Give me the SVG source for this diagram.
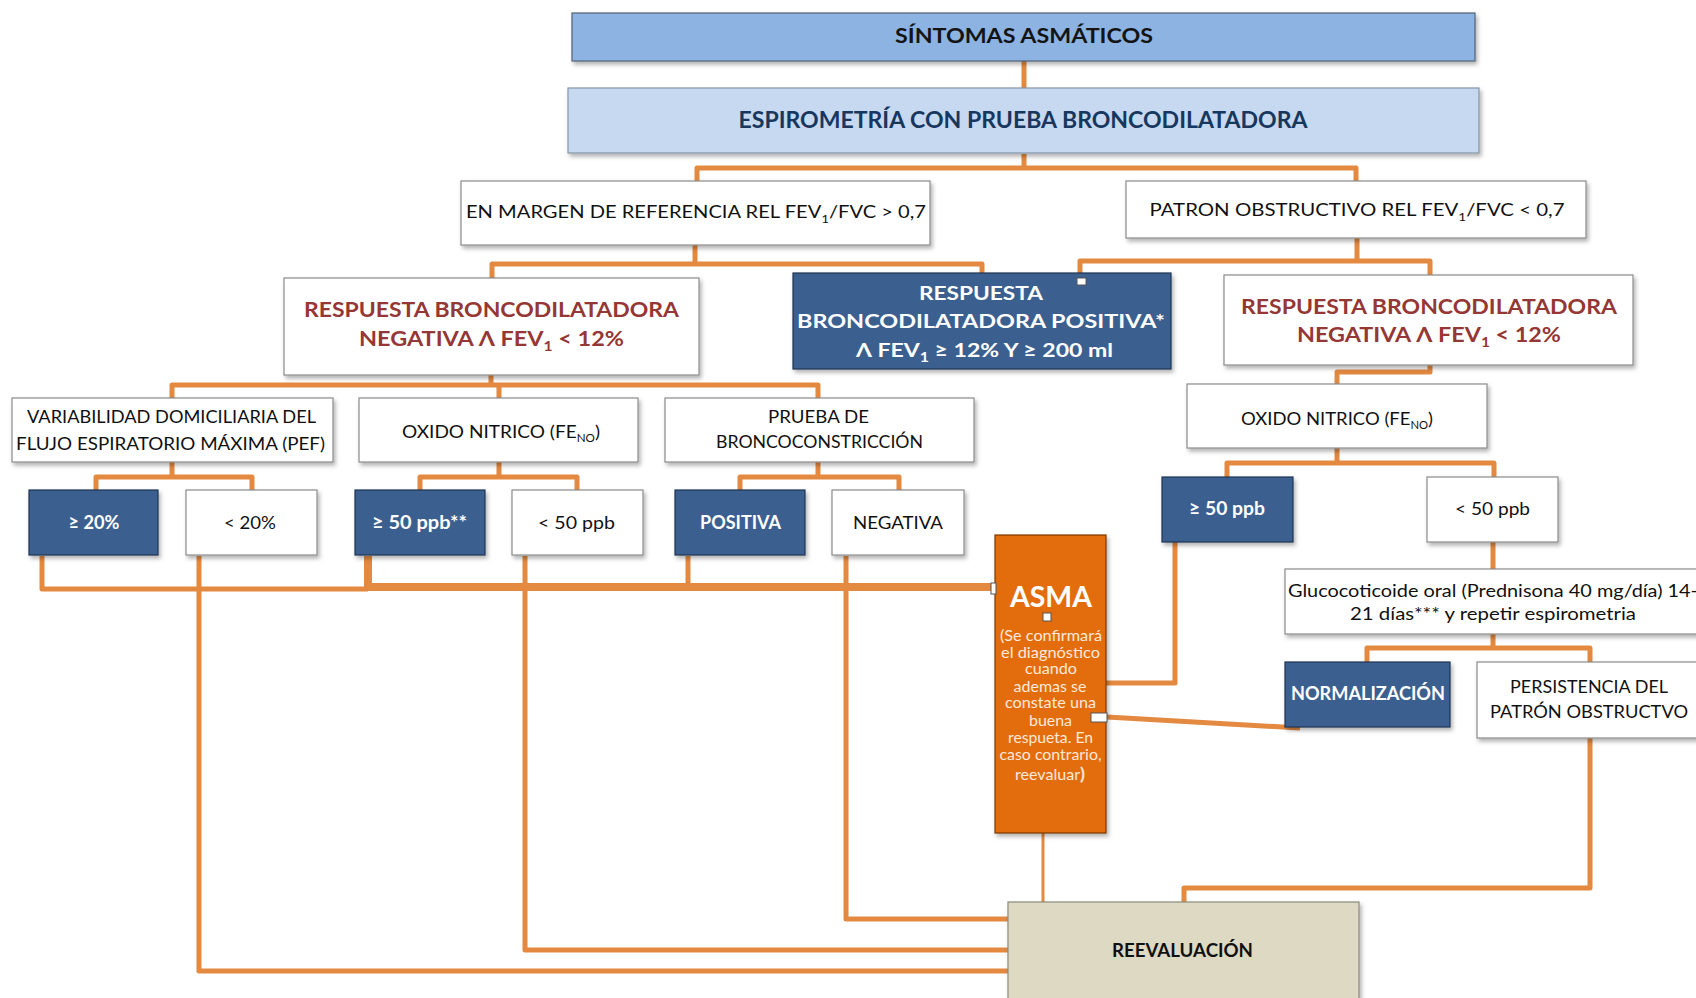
<svg xmlns="http://www.w3.org/2000/svg" width="1696" height="998" viewBox="0 0 1696 998">
<defs>
<filter id="sh" x="-10%" y="-10%" width="130%" height="140%">
<feDropShadow dx="2" dy="3" stdDeviation="2" flood-color="#000" flood-opacity="0.3"/>
</filter>
<style>
text{font-family:Lato,"Open Sans","Liberation Sans",sans-serif;text-anchor:middle}
.wb{fill:#fff;stroke:#8a8a8a;stroke-width:1.2;filter:url(#sh)}
.db{fill:#3a6090;stroke:#1f3552;stroke-width:1.2;filter:url(#sh)}
.ln{fill:none;stroke:#e38940;stroke-width:5;stroke-linejoin:round}
.t{font-size:18px;fill:#111}
.tw{font-size:19px;fill:#fff;font-weight:700}
.red{font-size:21px;fill:#953734;font-weight:700}
.hd{fill:#fff;stroke:#555;stroke-width:1}
.p{font-size:15px;fill:#fde9d9}
</style>
</defs>
<rect width="1696" height="998" fill="#fff"/>

<g id="connectors">
<path class="ln" d="M1024 61V89"/>
<path class="ln" d="M1024 154V168H697V181M1024 168H1356V181"/>
<path class="ln" d="M695 245V264H492V278M695 264H982V273"/>
<path class="ln" d="M1357 238V261H1080V273M1357 261H1430V275"/>
<path class="ln" d="M491 375V385H172V398M491 385H818V398M499 385V398"/>
<path class="ln" d="M172 462V477H96V490M172 477H252V490"/>
<path class="ln" d="M499 462V477H420V490M499 477H577V490"/>
<path class="ln" d="M818 462V477H740V490M818 477H899V490"/>
<path class="ln" d="M1430 365V372H1337V384"/>
<path class="ln" d="M1337 448V463H1227V477M1337 463H1494V477"/>
<path class="ln" d="M1493 542V569"/>
<path class="ln" d="M1493 634V648H1367V662M1493 648H1590V662"/>
<path class="ln" d="M1175 542V683H1106"/>
<path class="ln" d="M1107 717L1300 728"/>
<path class="ln" d="M1590 738V888H1184V902"/>
<path class="ln" d="M1043 833V902" style="stroke-width:3"/>
<path class="ln" d="M846 556V919H1008"/>
<path class="ln" d="M525 556V950H1008"/>
<path class="ln" d="M199 556V971H1008"/>
<path class="ln" d="M42 556V589H368"/>
<path class="ln" d="M368 556V587H995" style="stroke-width:8"/>
<path class="ln" d="M688 556V587"/>
</g>

<g id="sintomas">
<rect x="572" y="13" width="903" height="48" fill="#8db3e2" stroke="#4f6173" stroke-width="1.2" filter="url(#sh)"/>
<text x="1024" y="43" font-size="21" font-weight="700" fill="#141414" textLength="258" lengthAdjust="spacingAndGlyphs">SÍNTOMAS ASMÁTICOS</text>
</g>

<g id="espirometria">
<rect x="568" y="88" width="911" height="65" fill="#c6d9f1" stroke="#8494a6" stroke-width="1.2" filter="url(#sh)"/>
<text x="1023" y="128" font-size="22" font-weight="700" fill="#17375e" textLength="569" lengthAdjust="spacingAndGlyphs">ESPIROMETRÍA CON PRUEBA BRONCODILATADORA</text>
</g>

<g id="margen">
<rect class="wb" x="461" y="181" width="469" height="64"/>
<text class="t" x="696" y="218" font-size="19" textLength="460" lengthAdjust="spacingAndGlyphs">EN MARGEN DE REFERENCIA REL FEV<tspan dy="5" font-size="12">1</tspan><tspan dy="-5">/FVC &gt; 0,7</tspan></text>
</g>

<g id="patron">
<rect class="wb" x="1126" y="181" width="460" height="57"/>
<text class="t" x="1357" y="216" font-size="19" textLength="415" lengthAdjust="spacingAndGlyphs">PATRON OBSTRUCTIVO REL  FEV<tspan dy="5" font-size="12">1</tspan><tspan dy="-5">/FVC &lt; 0,7</tspan></text>
</g>

<g id="neg-left">
<rect class="wb" x="284" y="278" width="415" height="97"/>
<text class="red" x="491.5" y="317" textLength="375" lengthAdjust="spacingAndGlyphs">RESPUESTA BRONCODILATADORA</text>
<text class="red" x="491.5" y="346" textLength="265" lengthAdjust="spacingAndGlyphs">NEGATIVA Λ FEV<tspan dy="5" font-size="14">1</tspan><tspan dy="-5"> &lt; 12%</tspan></text>
</g>

<g id="positiva">
<rect class="db" x="793" y="273" width="378" height="96"/>
<text class="tw" x="981" y="300" font-size="20" textLength="124" lengthAdjust="spacingAndGlyphs">RESPUESTA</text>
<text class="tw" x="981" y="328" font-size="20" textLength="368" lengthAdjust="spacingAndGlyphs">BRONCODILATADORA POSITIVA*</text>
<text class="tw" x="984.5" y="357" font-size="20" textLength="257" lengthAdjust="spacingAndGlyphs">Λ FEV<tspan dy="5" font-size="13">1</tspan><tspan dy="-5"> ≥ 12% Y ≥ 200 ml</tspan></text>
</g>

<g id="neg-right">
<rect class="wb" x="1224" y="275" width="409" height="90"/>
<text class="red" x="1429" y="314" textLength="376" lengthAdjust="spacingAndGlyphs">RESPUESTA BRONCODILATADORA</text>
<text class="red" x="1429" y="342" textLength="264" lengthAdjust="spacingAndGlyphs">NEGATIVA Λ FEV<tspan dy="5" font-size="14">1</tspan><tspan dy="-5"> &lt; 12%</tspan></text>
</g>

<g id="variabilidad">
<rect class="wb" x="12" y="398" width="321" height="64"/>
<text class="t" x="171.5" y="423" font-size="17" textLength="289" lengthAdjust="spacingAndGlyphs">VARIABILIDAD DOMICILIARIA DEL</text>
<text class="t" x="170.5" y="450" font-size="17" textLength="309" lengthAdjust="spacingAndGlyphs">FLUJO ESPIRATORIO MÁXIMA (PEF)</text>
</g>

<g id="oxido-left">
<rect class="wb" x="359" y="398" width="279" height="64"/>
<text class="t" x="501" y="438" textLength="198" lengthAdjust="spacingAndGlyphs">OXIDO NITRICO (FE<tspan dy="4" font-size="11">NO</tspan><tspan dy="-4">)</tspan></text>
</g>

<g id="prueba">
<rect class="wb" x="665" y="398" width="309" height="64"/>
<text class="t" x="818.5" y="423" font-size="17" textLength="101" lengthAdjust="spacingAndGlyphs">PRUEBA DE</text>
<text class="t" x="819.5" y="448" font-size="17" textLength="207" lengthAdjust="spacingAndGlyphs">BRONCOCONSTRICCIÓN</text>
</g>

<g id="pef-ge20">
<rect class="db" x="29" y="490" width="129" height="65"/>
<text class="tw" x="94" y="529" textLength="51" lengthAdjust="spacingAndGlyphs">≥ 20%</text>
</g>
<g id="pef-lt20">
<rect class="wb" x="186" y="490" width="131" height="65"/>
<text class="t" x="250" y="529" textLength="52" lengthAdjust="spacingAndGlyphs">&lt; 20%</text>
</g>
<g id="feno-ge50">
<rect class="db" x="355" y="490" width="130" height="65"/>
<text class="tw" x="419.5" y="529" textLength="95" lengthAdjust="spacingAndGlyphs">≥ 50 ppb**</text>
</g>
<g id="feno-lt50">
<rect class="wb" x="512" y="490" width="131" height="65"/>
<text class="t" x="576.5" y="529" textLength="77" lengthAdjust="spacingAndGlyphs">&lt; 50 ppb</text>
</g>
<g id="positiva-bc">
<rect class="db" x="675" y="490" width="130" height="65"/>
<text class="tw" x="740.5" y="529" textLength="81" lengthAdjust="spacingAndGlyphs">POSITIVA</text>
</g>
<g id="negativa-bc">
<rect class="wb" x="832" y="490" width="132" height="65"/>
<text class="t" x="898" y="529" textLength="90" lengthAdjust="spacingAndGlyphs">NEGATIVA</text>
</g>

<g id="oxido-right">
<rect class="wb" x="1187" y="384" width="300" height="64"/>
<text class="t" x="1337" y="425" textLength="192" lengthAdjust="spacingAndGlyphs">OXIDO NITRICO (FE<tspan dy="4" font-size="11">NO</tspan><tspan dy="-4">)</tspan></text>
</g>
<g id="feno-r-ge50">
<rect class="db" x="1162" y="477" width="131" height="65"/>
<text class="tw" x="1227" y="515" textLength="76" lengthAdjust="spacingAndGlyphs">≥ 50 ppb</text>
</g>
<g id="feno-r-lt50">
<rect class="wb" x="1427" y="477" width="131" height="65"/>
<text class="t" x="1492.5" y="515" textLength="75" lengthAdjust="spacingAndGlyphs">&lt; 50 ppb</text>
</g>

<g id="glucocorticoide">
<rect class="wb" x="1285" y="569" width="440" height="65"/>
<text class="t" x="1493" y="597" font-size="19" textLength="410" lengthAdjust="spacingAndGlyphs">Glucocoticoide oral (Prednisona 40 mg/día) 14-</text>
<text class="t" x="1493" y="620" font-size="19" textLength="286" lengthAdjust="spacingAndGlyphs">21 días*** y repetir espirometria</text>
</g>

<g id="normalizacion">
<rect class="db" x="1285" y="662" width="165" height="65"/>
<text class="tw" x="1368" y="700" textLength="154" lengthAdjust="spacingAndGlyphs">NORMALIZACIÓN</text>
</g>

<g id="persistencia">
<rect class="wb" x="1477" y="662" width="250" height="76"/>
<text class="t" x="1589" y="693" textLength="158" lengthAdjust="spacingAndGlyphs">PERSISTENCIA DEL</text>
<text class="t" x="1589" y="718" textLength="198" lengthAdjust="spacingAndGlyphs">PATRÓN OBSTRUCTVO</text>
</g>

<g id="asma">
<rect x="995" y="535" width="111" height="298" fill="#e36c09" stroke="#7a3a06" stroke-width="1.2" filter="url(#sh)"/>
<text x="1051" y="607" font-size="29" font-weight="700" fill="#fff" textLength="82" lengthAdjust="spacingAndGlyphs">ASMA</text>
<text class="p" x="1051" y="641" textLength="102" lengthAdjust="spacingAndGlyphs">(Se confirmará</text>
<text class="p" x="1050.5" y="658" textLength="99" lengthAdjust="spacingAndGlyphs">el diagnóstico</text>
<text class="p" x="1051" y="674" textLength="52" lengthAdjust="spacingAndGlyphs">cuando</text>
<text class="p" x="1050" y="692" textLength="73" lengthAdjust="spacingAndGlyphs">ademas se</text>
<text class="p" x="1050.5" y="708" textLength="91" lengthAdjust="spacingAndGlyphs">constate una</text>
<text class="p" x="1050.5" y="726" textLength="43" lengthAdjust="spacingAndGlyphs">buena</text>
<text class="p" x="1050.5" y="743" textLength="85" lengthAdjust="spacingAndGlyphs">respueta. En</text>
<text class="p" x="1050.5" y="760" textLength="102" lengthAdjust="spacingAndGlyphs">caso contrario,</text>
<text class="p" x="1050" y="780" textLength="70" lengthAdjust="spacingAndGlyphs">reevaluar<tspan font-weight="700" font-size="17">)</tspan></text>
</g>

<g id="reevaluacion">
<rect x="1008" y="902" width="351" height="110" fill="#ddd9c3" stroke="#8c8a7c" stroke-width="1.2" filter="url(#sh)"/>
<text x="1182.5" y="957" font-size="18" font-weight="700" fill="#111" textLength="141" lengthAdjust="spacingAndGlyphs">REEVALUACIÓN</text>
</g>

<g id="handles">
<rect class="hd" x="1077" y="278" width="9" height="7"/>
<rect class="hd" x="1043" y="613" width="8" height="8"/>
<rect class="hd" x="991" y="583" width="5" height="11"/>
<rect class="hd" x="1091" y="713" width="16" height="9"/>
</g>
</svg>
